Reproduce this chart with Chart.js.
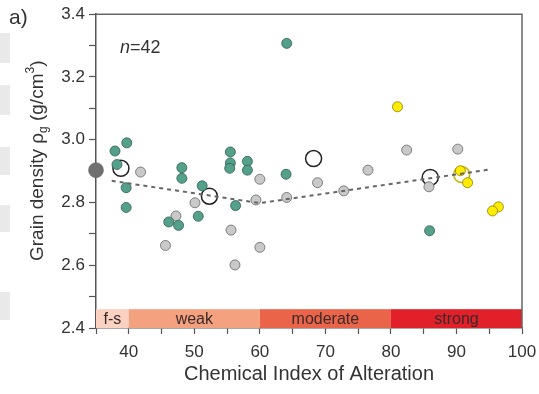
<!DOCTYPE html>
<html>
<head>
<meta charset="utf-8">
<script src="https://cdn.jsdelivr.net/npm/chart.js@4.4.1/dist/chart.umd.min.js"></script>
<style>
  html, body { margin: 0; padding: 0; background: #fff; }
  #graphique-densite { display: block; }
</style>
</head>
<body>
<canvas id="graphique-densite" width="539" height="394"></canvas>
<script>
/* Données (CIA, densité de grain) */
const tealX = [39.7, 37.9, 38.2, 39.6, 39.6, 48.1, 48.1, 51.2, 46.1, 47.6, 50.6, 55.5, 55.5, 55.4, 58.1, 58.1, 56.3, 64.1, 64.0, 85.9];
const tealY = [2.990, 2.964, 2.921, 2.847, 2.784, 2.911, 2.877, 2.853, 2.738, 2.727, 2.756, 2.961, 2.926, 2.909, 2.931, 2.903, 2.790, 3.307, 2.890, 2.710];

const grisX = [41.8, 50.1, 47.2, 45.6, 60.0, 59.4, 55.6, 60.0, 56.2, 68.8, 64.1, 72.8, 76.5, 82.4, 90.2, 85.8];
const grisY = [2.897, 2.799, 2.757, 2.663, 2.874, 2.808, 2.712, 2.657, 2.601, 2.863, 2.816, 2.837, 2.903, 2.967, 2.970, 2.850];

const jauneX = [81.0, 90.6, 91.7, 96.4, 95.5];
const jauneY = [3.105, 2.901, 2.863, 2.786, 2.773];

const frais = {x: 35, y: 2.903};

const moyenneX = [38.8, 52.3, 68.2, 86.0];
const moyenneY = [2.909, 2.820, 2.940, 2.880];
const moyenneJaune = {x: 90.8, y: 2.889};

const tendanceX = [37.4, 60, 95.1];
const tendanceY = [2.869, 2.798, 2.905];

/* Classes d'altération */
const classeDebut = [35, 40, 60, 80];
const classeFin = [40, 60, 80, 100];
const classeLabel = ['f-s', 'weak', 'moderate', 'strong'];
const classeCouleur = ['#fbd1c1', '#f4a17f', '#ea6449', '#e2202a'];
const classeHaut = 2.46;

const police = 'Arial, "Liberation Sans", sans-serif';
const couleurTexte = '#333';

const toPoints = (xs, ys) => xs.map((x, i) => ({x, y: ys[i]}));

/* Plugin pour le décor : bandes, cadre, titres */
const decor = {
  id: 'decor',
  beforeDraw(chart) {
    const ctx = chart.ctx;
    ctx.save();
    ctx.fillStyle = '#e9e9e9';
    [[33, 63], [85, 115], [147, 175], [205, 232], [292, 320]].forEach(r => {
      ctx.fillRect(0, r[0], 10, r[1] - r[0]);
    });
    ctx.restore();
  },
  beforeDatasetsDraw(chart) {
    const {ctx, scales: {x, y}} = chart;
    ctx.save();
    const top = y.getPixelForValue(classeHaut);
    const bas = y.getPixelForValue(2.4);
    classeDebut.forEach((d, i) => {
      const x0 = x.getPixelForValue(d);
      const x1 = x.getPixelForValue(classeFin[i]);
      ctx.fillStyle = classeCouleur[i];
      ctx.fillRect(x0, top, x1 - x0, bas - top);
      ctx.fillStyle = '#3a2a2a';
      ctx.font = `16px ${police}`;
      ctx.textAlign = 'center';
      ctx.textBaseline = 'middle';
      ctx.fillText(classeLabel[i], (x0 + x1) / 2, (top + bas) / 2 + 1);
    });
    ctx.restore();
  },
  afterDraw(chart) {
    const {ctx, chartArea: a} = chart;
    ctx.save();
    // cadre haut et droit
    ctx.strokeStyle = '#666';
    ctx.lineWidth = 1.5;
    ctx.beginPath();
    ctx.moveTo(a.left, a.top);
    ctx.lineTo(a.right, a.top);
    ctx.lineTo(a.right, a.bottom);
    ctx.stroke();

    ctx.fillStyle = couleurTexte;
    ctx.textBaseline = 'alphabetic';
    ctx.textAlign = 'left';
    ctx.font = `21px ${police}`;
    ctx.fillText('a)', 9, 24);

    ctx.font = `italic 18px ${police}`;
    ctx.fillText('n', 120, 53);
    const wn = ctx.measureText('n').width;
    ctx.font = `18px ${police}`;
    ctx.fillText('=42', 120 + wn, 53);

    // titre de l'axe y avec indice et exposant
    ctx.translate(43, 261);
    ctx.rotate(-Math.PI / 2);
    let px = 0;
    const morceau = (txt, taille, dy) => {
      ctx.font = `${taille}px ${police}`;
      ctx.fillText(txt, px, dy);
      px += ctx.measureText(txt).width;
    };
    morceau('Grain density ρ', 19, 0);
    morceau('g', 12, 4);
    morceau(' (g/cm', 19, 0);
    morceau('3', 12, -9);
    morceau(')', 19, 0);
    ctx.restore();
  }
};

const datasets = [
  {
    label: 'tendance',
    data: toPoints(tendanceX, tendanceY),
    showLine: true,
    borderColor: '#666',
    borderWidth: 2,
    borderDash: [4, 4],
    pointRadius: 0,
    order: 0
  },
  {
    label: 'teal',
    data: toPoints(tealX, tealY),
    backgroundColor: '#54a08b',
    borderColor: '#2f5e52',
    borderWidth: 0.8,
    pointRadius: 5,
    order: 1
  },
  {
    label: 'gris',
    data: toPoints(grisX, grisY),
    backgroundColor: '#c9c9c9',
    borderColor: '#666',
    borderWidth: 0.8,
    pointRadius: 5,
    order: 2
  },
  {
    label: 'jaune',
    data: toPoints(jauneX, jauneY),
    backgroundColor: '#ffec00',
    borderColor: '#8d7c00',
    borderWidth: 0.8,
    pointRadius: 5,
    order: 1
  },
  {
    label: 'frais',
    data: [frais],
    backgroundColor: '#6f6f6f',
    borderColor: '#666',
    borderWidth: 0.5,
    pointRadius: 7.5,
    clip: false,
    order: 1
  },
  {
    label: 'moyenne',
    data: toPoints(moyenneX, moyenneY),
    backgroundColor: 'rgba(255,255,255,0)',
    borderColor: '#222',
    borderWidth: 1.5,
    pointRadius: 8,
    order: 5
  },
  {
    label: 'moyenne jaune',
    data: [moyenneJaune],
    backgroundColor: 'rgba(255,255,255,0)',
    borderColor: '#c8b300',
    borderWidth: 1.5,
    pointRadius: 8,
    order: 5
  }
];

const options = {
  responsive: false,
  animation: false,
  events: [],
  layout: { padding: { top: 14, right: 17, left: 0, bottom: 0 } },
  plugins: { legend: { display: false }, tooltip: { enabled: false } },
  scales: {
    x: {
      type: 'linear',
      min: 35,
      max: 100,
      afterFit: s => {
        s.height = 66;
        s.paddingLeft = 0;
        s.paddingRight = 10;
      },
      ticks: {
        stepSize: 5,
        autoSkip: false,
        maxRotation: 0,
        padding: 8,
        color: couleurTexte,
        font: { family: police, size: 17 },
        callback: v => (v % 10 === 0 ? v : '')
      },
      grid: { drawOnChartArea: false, tickLength: 6, tickColor: '#555', tickWidth: 1.2 },
      border: { color: '#555', width: 1.5 },
      title: {
        display: true,
        text: 'Chemical Index of Alteration',
        color: couleurTexte,
        font: { family: police, size: 20 },
        padding: { top: 0, bottom: 8 }
      }
    },
    y: {
      type: 'linear',
      min: 2.4,
      max: 3.4,
      afterFit: s => { s.width = 96; },
      ticks: {
        stepSize: 0.1,
        autoSkip: false,
        padding: 4,
        color: couleurTexte,
        font: { family: police, size: 17 },
        callback: v => (Math.round(v * 10) % 2 === 0 ? v.toFixed(1) : '')
      },
      grid: { drawOnChartArea: false, tickLength: 7, tickColor: '#555', tickWidth: 1.2 },
      border: { color: '#555', width: 1.5 }
    }
  }
};

const ctx = document.getElementById('graphique-densite').getContext('2d');
new Chart(ctx, { type: 'scatter', data: { datasets }, options, plugins: [decor] });
</script>
</body>
</html>
